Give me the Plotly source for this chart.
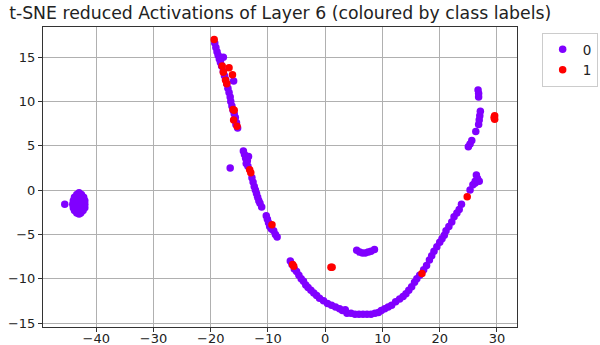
import plotly.graph_objects as go

# ---- data ----
# class 0: elliptical blob on the far left + single outlier
blob_x = [-43.0, -43.4, -42.6, -43.8, -43.3, -42.7, -42.2, -44.0, -43.5, -43.0, -42.5, -42.0,
          -44.1, -43.6, -43.1, -42.6, -42.0, -44.0, -43.5, -43.0, -42.5, -42.0,
          -43.8, -43.3, -42.8, -42.3, -43.4, -42.7, -43.0, -45.5]
blob_y = [-0.3, -0.5, -0.5, -0.8, -0.8, -0.8, -0.8, -1.2, -1.2, -1.2, -1.2, -1.2,
          -1.6, -1.6, -1.6, -1.6, -1.6, -2.0, -2.0, -2.0, -2.0, -2.0,
          -2.3, -2.3, -2.3, -2.3, -2.6, -2.6, -2.7, -1.6]

# class 0: upper-left arm
arm1_x = [-19.3, -19.1, -18.9, -18.7, -18.5, -18.3, -18.1, -17.8, -17.6, -17.4, -17.2, -17.0,
          -16.8, -16.6, -16.5, -16.3, -16.1, -15.9, -15.7, -15.5, -15.3, -17.8, -16.0, -15.6]
arm1_y = [16.6, 16.1, 15.6, 15.2, 14.8, 14.4, 14.0, 13.4, 12.9, 12.5, 12.0, 11.5,
          11.0, 10.5, 10.0, 9.5, 9.0, 8.6, 8.2, 7.6, 7.0, 15.0, 12.3, 7.4]

# class 0: middle arm
arm2_x = [-14.3, -14.1, -13.9, -13.6, -13.4, -13.8, -13.5, -12.8, -12.6, -12.4, -12.2, -12.0,
          -11.8, -11.6, -11.4, -11.1, -10.3, -10.1, -9.9, -9.7, -9.4, -9.0, -8.7, -8.4, -16.6]
arm2_y = [4.4, 4.0, 3.6, 3.3, 3.8, 3.0, 2.7, 1.4, 0.9, 0.4, 0.0, -0.4,
          -0.8, -1.2, -1.5, -1.9, -2.9, -3.3, -3.7, -4.1, -4.4, -4.6, -5.0, -5.3, 2.5]

# class 0: bottom curve and right arm
curve_x = [-6.1, -5.8, -5.4, -5.0, -4.6, -4.2, -3.8, -3.4, -3.0, -2.5, -2.0, -1.5, -1.0, -0.3,
           0.4, 1.1, 1.8, 2.5, 3.0, 3.5, 3.8, 4.5, 5.2, 5.9, 6.6, 7.3, 8.0, 8.7, 9.3, 9.8,
           10.4, 11.0, 11.6, 12.3, 13.0, 13.6, 14.1, 14.6, 15.1, 15.6, 16.0, 16.5, 17.2, 17.7,
           18.2, 18.6, 19.0, 19.5, 20.0, 20.4, 20.8, 21.1, 21.6, 22.1, 22.5, 23.0, 23.4, 23.8,
           25.3, 25.8, 26.2, 26.6, 26.4, 26.9, 26.2]
curve_y = [-8.0, -8.4, -8.9, -9.2, -9.6, -10.0, -10.3, -10.7, -11.0, -11.3, -11.6, -11.9, -12.2, -12.5,
           -12.8, -13.0, -13.2, -13.4, -13.6, -13.5, -13.9, -13.9, -14.0, -14.0, -14.0, -14.0, -14.0, -13.9, -13.8, -13.6,
           -13.4, -13.2, -13.0, -12.6, -12.3, -12.0, -11.7, -11.3, -10.9, -10.4, -10.0, -9.6, -9.0, -8.5,
           -7.9, -7.4, -6.9, -6.4, -5.9, -5.5, -5.1, -4.6, -4.1, -3.6, -3.0, -2.6, -2.2, -1.6,
           0.0, 0.6, 1.0, 1.3, 1.7, 1.0, 0.8]

# class 0: small arc and upper-right arm
arc_x = [5.5, 6.0, 6.5, 7.0, 7.5, 8.0, 8.6,
         25.0, 25.3, 25.6, 26.3, 26.8, 26.9, 27.0, 27.1, 26.8, 26.8, 26.7]
arc_y = [-6.8, -7.0, -7.1, -7.1, -7.0, -6.9, -6.7,
         4.9, 5.2, 5.6, 6.6, 7.4, 7.9, 8.4, 8.9, 10.5, 10.9, 11.3]

# class 1
x1 = [-19.4, -18.0, -17.8, -16.8, -16.2, -17.4, -17.2, -16.1, -15.9, -16.0, -15.4,
      -13.2, -13.0, -9.3, -5.5, -5.7, 1.2, 1.0, 16.9, 24.8, 29.6, 29.6, 29.5]
y1 = [17.0, 14.0, 13.3, 13.8, 13.0, 12.4, 12.0, 9.1, 9.0, 7.9, 7.2,
      2.3, 1.95, -3.9, -8.6, -8.4, -8.7, -8.7, -9.4, -0.75, 8.0, 8.4, 8.2]

x0 = blob_x + arm1_x + arm2_x + curve_x + arc_x
y0 = blob_y + arm1_y + arm2_y + curve_y + arc_y

labels = ["0", "1"]
colors = ["#8000ff", "#ff0000"]

fig = go.Figure()
fig.add_trace(go.Scatter(x=x0, y=y0, mode="markers", name=labels[0],
                         marker=dict(color=colors[0], size=7.5, line=dict(width=0))))
fig.add_trace(go.Scatter(x=x1, y=y1, mode="markers", name=labels[1],
                         marker=dict(color=colors[1], size=7.5, line=dict(width=0))))

axis_common = dict(
    showgrid=True, gridcolor="#b0b0b0", gridwidth=1, zeroline=False,
    showline=True, linecolor="#333333", linewidth=1, mirror=True,
    ticks="outside", ticklen=4, tickcolor="#333333", automargin=False,
    tickfont=dict(family="DejaVu Sans", size=13, color="#222222"),
)

fig.update_layout(
    width=600, height=345,
    margin=dict(l=43, r=83, t=27, b=18, autoexpand=False),
    paper_bgcolor="white", plot_bgcolor="white",
    title=dict(text="t-SNE reduced Activations of Layer 6 (coloured by class labels)",
               font=dict(family="DejaVu Sans", size=17.3, color="#222222"),
               x=0.467, xanchor="center", xref="container",
               y=0.962, yanchor="middle", yref="container"),
    xaxis=dict(range=[-49.3, 33.5], dtick=10, ticklabelstandoff=-5, **axis_common),
    yaxis=dict(range=[-15.45, 18.4], dtick=5, **axis_common),
    legend=dict(x=1.052, y=0.98, xanchor="left", yanchor="top",
                bordercolor="#cccccc", borderwidth=1, bgcolor="white",
                font=dict(family="DejaVu Sans", size=13.5, color="#222222"),
                tracegroupgap=0, itemwidth=30),
    showlegend=True,
)

fig.write_html("out.html", config={"displayModeBar": False},
               post_script="document.body.style.margin='0px';document.body.style.overflow='hidden';")
